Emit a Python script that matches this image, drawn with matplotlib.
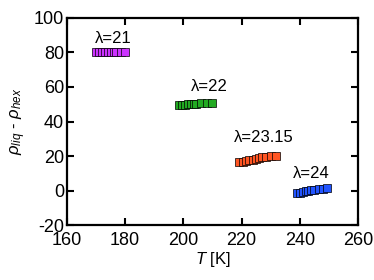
import matplotlib
matplotlib.use("Agg")
import matplotlib.pyplot as plt

plt.rcParams['font.family'] = ['Liberation Sans', 'DejaVu Sans']
plt.rcParams['mathtext.fontset'] = 'custom'
plt.rcParams['mathtext.it'] = 'Liberation Sans:italic'
plt.rcParams['mathtext.rm'] = 'Liberation Sans'
plt.rcParams['axes.unicode_minus'] = False

# data
T21 = [170, 171, 172, 173, 174, 175, 176, 177, 178.5, 180]
d21 = [80, 80, 80, 80, 80, 80, 80, 80, 80, 80]
T22 = [198.5, 199.5, 200.5, 201.5, 202.5, 203.5, 204.5, 206, 208, 210]
d22 = [49.5, 49.6, 49.8, 49.9, 50, 50.2, 50.3, 50.5, 50.7, 51]
T2315 = [219, 220.5, 221.5, 222.5, 224, 225, 226, 227, 228.5, 230, 232]
d2315 = [16.5, 16.8, 17, 17.5, 18, 18.5, 19, 19.2, 19.5, 19.8, 20]
T24 = [239, 240, 241, 242, 243, 244, 245, 246.5, 248, 249.5]
d24 = [-1.5, -1.2, -0.9, -0.5, -0.2, 0.2, 0.6, 0.9, 1.2, 1.5]

series = [
    (T21, d21, '#cc33ff', 'λ=21', (176, 88)),
    (T22, d22, '#22aa22', 'λ=22', (209, 60)),
    (T2315, d2315, '#ff5522', 'λ=23.15', (227.5, 31)),
    (T24, d24, '#2255ff', 'λ=24', (244, 10)),
]

fig = plt.figure(figsize=(3.74, 2.80), dpi=100)
ax = fig.add_axes([0.179, 0.196, 0.778, 0.740])

for T, d, c, lab, pos in series:
    ax.plot(T, d, 's', color=c, markersize=6, markeredgecolor='k',
            markeredgewidth=0.5, linestyle='none')
    ax.text(pos[0], pos[1], lab, ha='center', va='center', fontsize=12)

ax.set_xlim(160, 260)
ax.set_ylim(-20, 100)
ax.set_xticks([160, 180, 200, 220, 240, 260])
ax.set_yticks([-20, 0, 20, 40, 60, 80, 100])

for s in ax.spines.values():
    s.set_linewidth(1.6)
ax.tick_params(direction='in', top=True, right=True, length=5, width=1.5,
               labelsize=13)
ax.tick_params(axis='x', pad=5)
ax.tick_params(axis='y', pad=2)

ax.set_xlabel('$T$ [K]', fontsize=12, labelpad=1)
ax.set_ylabel(r'$\rho_{liq}$ - $\rho_{hex}$', fontsize=12, labelpad=4)

fig.savefig('out.png', dpi=100)
